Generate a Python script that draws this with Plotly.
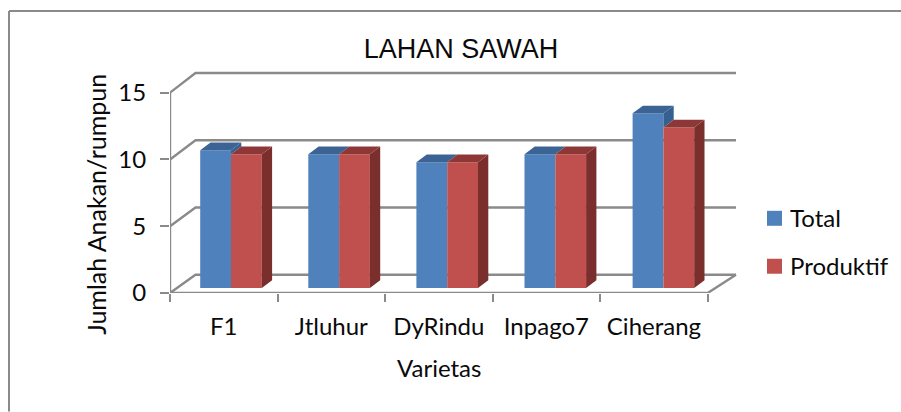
import plotly.graph_objects as go

categories = ["F1", "Jtluhur", "DyRindu", "Inpago7", "Ciherang"]
total = [10.3, 10.0, 9.4, 10.0, 13.05]
produktif = [10.0, 10.0, 9.4, 10.0, 12.0]
y_ticks = [0, 5, 10, 15]

W, H = 901, 412
L, FRONT_R, FRONT_T, B = 170.0, 707.7, 92.7, 293.3
R, T = 740.0, 68.0
GREY = "#8A8A8A"
BLUE, BLUE_TOP, BLUE_SIDE = "#4F81BD", "#3B6495", "#36608F"
RED, RED_TOP, RED_SIDE = "#C0504D", "#8D3836", "#7B2F2D"
LABEL_FONT = "Lato, 'Open Sans', sans-serif"
TXT = "#0A0A0A"
LABEL_SIZE = 24

n = len(categories)
front_px_x = (FRONT_R - L) / n
front_px_y = (B - FRONT_T) / 15.0
bar_px_x = 108.1
bar_px_y = 13.4
bar_zero_px = 288.3
bar_center0 = 231.0

wall_dx = 25.5 / front_px_x
wall_right = (736.0 - L) / front_px_x
wall_dy = 18.3 / front_px_y
wall_scale = 1.007
depth_x = 10.3 / bar_px_x
depth_y = 7.7 / bar_px_y
bar_w = 30.8 / bar_px_x


def px(x):
    return (x - L) / (R - L)


def py(y):
    return (B - y) / (B - T)


fig = go.Figure()

# axes lines, back wall and floor
wx, wy = [0, 0, None, 0, n, None], [0, 15, None, 0, 0, None]
for v in y_ticks:
    back = v * wall_scale + wall_dy
    wx += [0, wall_dx, wall_right, None]
    wy += [v, back, back, None]
wx += [n, wall_right, None]
wy += [0, wall_dy, None]
fig.add_trace(go.Scatter(x=wx, y=wy, mode="lines", line=dict(color=GREY, width=2.4),
                         cliponaxis=False, showlegend=False, hoverinfo="skip"))

# front faces
idx = list(range(n))
fig.add_trace(go.Bar(x=idx, y=total, name="Total", marker=dict(color=BLUE, line=dict(width=0)),
                     xaxis="x2", yaxis="y2", showlegend=False, customdata=categories))
fig.add_trace(go.Bar(x=idx, y=produktif, name="Produktif", marker=dict(color=RED, line=dict(width=0)),
                     xaxis="x2", yaxis="y2", showlegend=False, customdata=categories))


def face(xs, ys, color):
    fig.add_trace(go.Scatter(x=xs, y=ys, mode="lines", fill="toself", fillcolor=color,
                             line=dict(width=0, color=color), xaxis="x2", yaxis="y2",
                             cliponaxis=False, showlegend=False, hoverinfo="skip"))


bs_x, bs_y, bt_x, bt_y, rs_x, rs_y, rt_x, rt_y = [], [], [], [], [], [], [], []
for i in idx:
    x0, x1, x2 = i - bar_w, i, i + bar_w
    vb, vr = total[i], produktif[i]
    if vb > vr:
        bs_x += [x1, x1 + depth_x, x1 + depth_x, x1, None]
        bs_y += [vb, vb + depth_y, vr + depth_y, vr, None]
    bt_x += [x0, x0 + depth_x, x1 + depth_x, x1, None]
    bt_y += [vb, vb + depth_y, vb + depth_y, vb, None]
    rs_x += [x2, x2 + depth_x, x2 + depth_x, x2, None]
    rs_y += [0, depth_y, vr + depth_y, vr, None]
    rt_x += [x1, x1 + depth_x, x2 + depth_x, x2, None]
    rt_y += [vr, vr + depth_y, vr + depth_y, vr, None]
face(bs_x, bs_y, BLUE_SIDE)
face(bt_x, bt_y, BLUE_TOP)
face(rs_x, rs_y, RED_SIDE)
face(rt_x, rt_y, RED_TOP)

shapes = [
    dict(type="line", xref="paper", yref="paper", x0=px(9), x1=px(9), y0=py(11), y1=py(412),
         line=dict(color=GREY, width=2)),
    dict(type="line", xref="paper", yref="paper", x0=px(9), x1=px(901), y0=py(11), y1=py(11),
         line=dict(color=GREY, width=2)),
    dict(type="rect", xref="paper", yref="paper", x0=px(767), x1=px(782), y0=py(226), y1=py(211),
         fillcolor=BLUE, line=dict(width=0)),
    dict(type="rect", xref="paper", yref="paper", x0=px(767), x1=px(782), y0=py(274), y1=py(259),
         fillcolor=RED, line=dict(width=0)),
]


def label(text, x, y, angle=0, anchor="center", size=LABEL_SIZE):
    return dict(text=text, xref="paper", yref="paper", x=px(x), y=py(y), xanchor=anchor,
                yanchor="middle", textangle=angle, showarrow=False,
                font=dict(size=size, family=LABEL_FONT, color=TXT))


fig.update_layout(
    width=W, height=H,
    margin=dict(l=L, r=W - R, t=T, b=H - B, pad=0),
    paper_bgcolor="white", plot_bgcolor="rgba(0,0,0,0)",
    font=dict(family=LABEL_FONT, size=LABEL_SIZE, color=TXT),
    barmode="group", bargap=1 - 2 * bar_w, bargroupgap=0,
    showlegend=False,
    title=dict(text="LAHAN SAWAH", x=461 / W, xanchor="center", y=1 - 49 / H, yanchor="middle",
               font=dict(family="'Liberation Sans', Arial, sans-serif", size=27, color=TXT)),
    xaxis=dict(range=[0, (R - L) / front_px_x], tickmode="array", tickvals=[i + 0.5 for i in idx],
               ticktext=categories, ticks="", ticklen=0, showgrid=False, zeroline=False,
               showline=False, ticklabelstandoff=17,
               minor=dict(tickmode="array", tickvals=list(range(n + 1)), ticks="outside",
                          ticklen=8, tickwidth=2, tickcolor=GREY, showgrid=False)),
    yaxis=dict(range=[0, (B - T) / front_px_y], tickmode="array", tickvals=y_ticks, ticks="outside",
               ticklen=9, tickwidth=2, tickcolor=GREY, showgrid=False, zeroline=False,
               showline=False, ticklabelstandoff=9),
    xaxis2=dict(overlaying="x", visible=False, type="linear",
                range=[(L - bar_center0) / bar_px_x, (R - bar_center0) / bar_px_x]),
    yaxis2=dict(overlaying="y", visible=False,
                range=[(bar_zero_px - B) / bar_px_y, (bar_zero_px - T) / bar_px_y]),
    shapes=shapes,
    annotations=[
        label("Jumlah Anakan/rumpun", 96, 205, angle=-90, size=25),
        label("Varietas", 439, 368),
        label("Total", 788, 218, anchor="left"),
        label("Produktif", 788, 266, anchor="left"),
    ],
)

fig.write_html("out.html", post_script="document.body.style.margin='0';document.body.style.overflow='hidden';",
               config={"displayModeBar": False})
